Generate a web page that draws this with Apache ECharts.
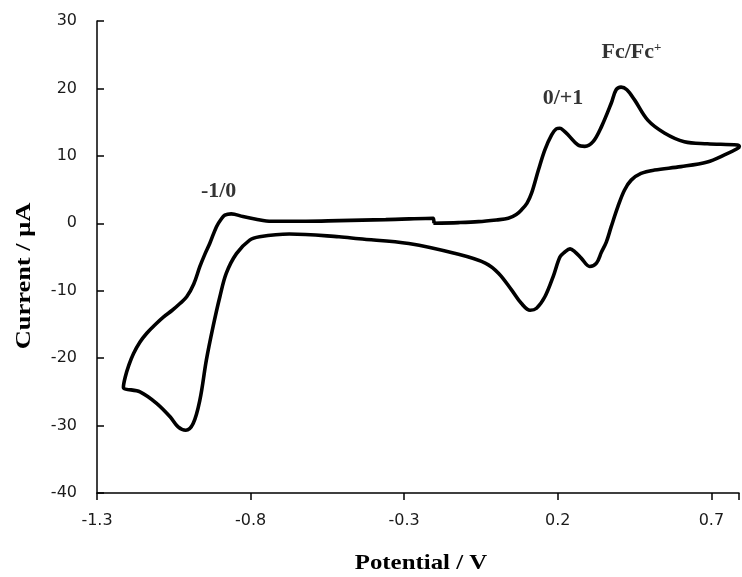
<!DOCTYPE html>
<html><head><meta charset="utf-8">
<script src="https://cdn.jsdelivr.net/npm/echarts@6/dist/echarts.min.js"></script>
<style>html,body{margin:0;padding:0;background:#fff}#c{width:742px;height:577px}</style>
</head><body><div id="c"></div>
<script>
// Cyclic voltammogram: potential (V) and current (uA), in scan order
const potential = [
  -0.205, -0.123, -0.058, 0.000, 0.039, 0.065, 0.082, 0.100, 0.115, 0.137, 0.158, 0.180, 0.195, 0.207, 0.220, 0.234, 0.266, 0.288, 0.315, 0.342, 0.374, 0.390, 0.406, 0.425, 0.450, 0.493, 0.547, 0.612, 0.687, 0.785, 0.791,
  0.785, 0.741, 0.687, 0.601, 0.515, 0.471, 0.439, 0.417, 0.396, 0.374, 0.358, 0.342, 0.326, 0.304, 0.277, 0.255, 0.240, 0.222, 0.207, 0.185, 0.158, 0.131, 0.110, 0.082, 0.050, 0.007, -0.036, -0.123, -0.285, -0.447, -0.512, -0.674, -0.771, -0.803, -0.846, -0.879, -0.900, -0.922, -0.944, -0.965, -0.987, -1.011, -1.036, -1.062, -1.106, -1.160, -1.214,
  -1.208, -1.196, -1.181, -1.160, -1.138, -1.110, -1.084, -1.055, -1.030, -1.008, -0.985, -0.965, -0.948, -0.933, -0.911, -0.896, -0.884, -0.863, -0.825, -0.782, -0.749, -0.700, -0.620, -0.512, -0.360, -0.205, -0.203
];
const current = [
  0.0, 0.1, 0.24, 0.5, 0.74, 1.3, 2.0, 3.0, 4.5, 7.9, 10.9, 13.1, 14.0, 14.1, 13.7, 13.1, 11.6, 11.4, 12.1, 14.3, 17.8, 19.8, 20.2, 19.8, 18.3, 15.3, 13.4, 12.1, 11.8, 11.6, 11.4,
  11.1, 10.1, 9.1, 8.4, 7.9, 7.4, 6.4, 4.9, 2.5, -0.5, -2.8, -4.3, -5.9, -6.4, -5.2, -4.2, -3.8, -4.3, -5.0, -7.9, -10.9, -12.6, -12.9, -11.9, -9.9, -7.4, -5.9, -4.6, -3.0, -2.3, -2.0, -1.6, -2.0, -2.5, -4.5, -7.4, -10.9, -15.3, -20.3, -26.2, -29.7, -30.7, -30.2, -28.7, -26.7, -25.0, -24.3,
  -22.8, -21.0, -19.3, -17.6, -16.3, -15.0, -13.9, -12.9, -11.9, -10.9, -9.0, -6.4, -4.5, -3.0, -0.5, 0.6, 1.2, 1.4, 1.0, 0.6, 0.35, 0.3, 0.3, 0.4, 0.55, 0.74, 0.0
];
const xTickLabels = [-1.3, -0.8, -0.3, 0.2, 0.7];
const yTickLabels = [-40, -30, -20, -10, 0, 10, 20, 30];
const noteText = ['-1/0', '0/+1', 'Fc/Fc'];
const noteV = [-0.904, 0.217, 0.440];
const noteI = [4.8, 18.6, 25.3];
const xTitle = 'Potential / V';
const yTitle = 'Current / μA';

const chart = echarts.init(document.getElementById('c'), null, {renderer: 'canvas'});
const serif = '"Liberation Serif", "Times New Roman", serif';
const sans = '"DejaVu Sans", Verdana, sans-serif';
chart.setOption({
  backgroundColor: '#fff',
  animation: false,
  grid: {left: 97, right: 0, top: 21, bottom: 84},
  xAxis: {
    type: 'value', min: -1.3, max: 0.79, interval: 0.5,
    axisLine: {onZero: false, lineStyle: {color: '#000', width: 1.5}},
    axisTick: {inside: false, length: 7, lineStyle: {color: '#000', width: 1.5}},
    axisLabel: {
      margin: 20, fontFamily: sans, fontSize: 16, color: '#1a1a1a',
      formatter: v => xTickLabels.some(t => Math.abs(t - v) < 1e-6) ? Number(v).toFixed(1) : ''
    },
    splitLine: {show: false}
  },
  yAxis: {
    type: 'value', min: -40, max: 30, interval: 10,
    axisLine: {show: true, onZero: false, lineStyle: {color: '#000', width: 1.5}},
    axisTick: {show: true, inside: true, length: 7, lineStyle: {color: '#000', width: 1.5}},
    axisLabel: {
      margin: 20, fontFamily: sans, fontSize: 16, color: '#1a1a1a',
      formatter: v => yTickLabels.includes(Math.round(v)) ? String(Math.round(v)) : ''
    },
    splitLine: {show: false}
  },
  graphic: [{
    type: 'text', x: 24, y: 276, rotation: Math.PI / 2, scaleX: 1.2,
    style: {text: yTitle, font: 'bold 22px ' + serif, fill: '#000', align: 'center', verticalAlign: 'middle'}
  }, {
    type: 'text', x: 421, y: 563, scaleX: 1.13,
    style: {text: xTitle, font: 'bold 22px ' + serif, fill: '#000', align: 'center', verticalAlign: 'middle'}
  }],
  series: [{
    type: 'line',
    data: potential.map((v, i) => [v, current[i]]),
    showSymbol: false, smooth: 0.35,
    lineStyle: {color: '#000', width: 3.6},
    clip: true
  }, {
    type: 'scatter',
    symbolSize: 0,
    data: noteText.map((t, i) => ({name: t, value: [noteV[i], noteI[i]]})),
    label: {
      show: true, position: 'inside',
      formatter: p => p.name === 'Fc/Fc' ? '{b|Fc/Fc}{s|+}' : '{b|' + p.name + '}',
      rich: {
        b: {fontFamily: serif, fontWeight: 'bold', fontSize: 22, color: '#000'},
        s: {fontFamily: serif, fontWeight: 'bold', fontSize: 13, color: '#000', padding: [0, 0, 10, 0]}
      }
    }
  }]
});
</script>
</body></html>
